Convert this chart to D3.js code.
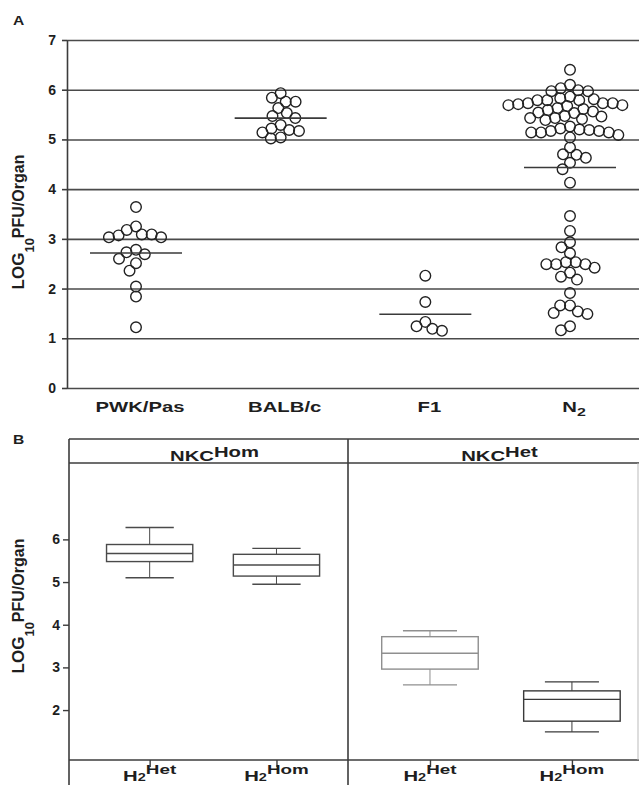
<!DOCTYPE html>
<html>
<head>
<meta charset="utf-8">
<script src="https://cdn.jsdelivr.net/npm/d3@7"></script>
<style>
  body { margin: 0; background: #fff; }
  text { font-family: "Liberation Sans", Arial, Helvetica, sans-serif; font-weight: bold; fill: #1e1e1e; }
</style>
</head>
<body>
<svg id="chart" width="639" height="785"></svg>
<script>
// ---- panel A data (log10 PFU per organ, one value per mouse) ----
const groupsA = ["PWK/Pas", "BALB/c", "F1", "N2"];
const pwkPas = [3.64, 3.18, 3.25, 3.07, 3.03, 3.03, 3.09, 3.09, 2.78, 2.73, 2.69, 2.60, 2.51, 2.36, 2.04, 1.84, 1.22];
const balbC = [5.93, 5.76, 5.84, 5.76, 5.63, 5.47, 5.53, 5.43, 5.29, 5.14, 5.19, 5.17, 5.22, 5.02, 5.04];
const f1 = [2.26, 1.73, 1.33, 1.24, 1.19, 1.15];
const n2 = [6.40, 6.10, 5.97, 5.99, 6.03, 5.97,
  5.79, 5.83, 5.81, 5.86, 5.79, 5.79, 5.73, 5.73, 5.71,
  5.69, 5.67, 5.73, 5.69, 5.63,
  5.56, 5.53, 5.61, 5.59, 5.54,
  5.43, 5.46, 5.41, 5.43, 5.39, 5.47,
  5.26,
  5.14, 5.14, 5.19, 5.20, 5.22, 5.17, 5.14, 5.17,
  5.04, 5.09,
  4.84, 4.69, 4.63, 4.70, 4.53, 4.40, 4.13,
  3.46, 3.16, 2.93, 2.83, 2.71,
  2.53, 2.49, 2.49, 2.49, 2.42, 2.53,
  2.32, 2.24, 2.18, 1.91,
  1.66, 1.54, 1.49, 1.66, 1.51,
  1.16, 1.24];
const yTicksA = [0, 1, 2, 3, 4, 5, 6, 7];

// ---- panel B data (box plots) ----
const nkcGroups = ["Hom", "Het"];
const h2Groups = ["Het", "Hom"];
// order: NKC-Hom/H2-Het, NKC-Hom/H2-Hom, NKC-Het/H2-Het, NKC-Het/H2-Hom
const whiskerLow = [5.10, 4.95, 2.59, 1.49];
const q1 = [5.48, 5.14, 2.96, 1.74];
const median = [5.67, 5.40, 3.33, 2.25];
const q3 = [5.88, 5.65, 3.72, 2.45];
const whiskerHigh = [6.28, 5.79, 3.86, 2.66];
const yTicksB = [2, 3, 4, 5, 6];

const svg = d3.select("#chart");
const lineCol = "#3c3c3c";
const stretch = 1.45; // the original lettering is wide

// ================= PANEL A =================
const yA = d3.scaleLinear().domain([0, 7]).range([388, 40]);
const xA = d3.scalePoint().domain(groupsA).range([136, 570]);
const axisX = 67;

svg.append("text").attr("transform", "translate(13,25) scale(1.3,1)")
  .attr("font-size", 12).text("A");

// horizontal grid lines
svg.append("g")
  .attr("transform", `translate(${axisX},0)`)
  .call(d3.axisLeft(yA).tickValues(yTicksA).tickSize(-(639 - axisX)).tickFormat(""))
  .call(g => g.select(".domain").remove())
  .selectAll("line").attr("stroke", "#4a4a4a").attr("stroke-width", 1.6);

// y axis
const axA = svg.append("g")
  .attr("transform", `translate(${axisX},0)`)
  .call(d3.axisLeft(yA).tickValues(yTicksA).tickFormat(d3.format("d"))
    .tickSize(5).tickPadding(6).tickSizeOuter(0));
axA.select(".domain").attr("stroke", lineCol).attr("stroke-width", 1.6);
axA.selectAll("line").attr("stroke", lineCol).attr("stroke-width", 1.6);
axA.selectAll("text").attr("font-size", 14);

// y title
function yTitle(cx, cy) {
  const t = svg.append("text")
    .attr("transform", `translate(${cx},${cy}) rotate(-90)`)
    .attr("text-anchor", "middle").attr("font-size", 17);
  t.append("tspan").text("LOG");
  t.append("tspan").attr("font-size", 13).attr("dy", 10).text("10");
  t.append("tspan").attr("font-size", 16).attr("dy", -10).text("PFU/Organ");
}
yTitle(24, 222);

// beeswarm layout from the values
function swarm(values, y, r) {
  const d = 2 * r * 0.93;
  const placed = [];
  values.map(v => ({ v, y: y(v) }))
    .sort((a, b) => a.y - b.y)
    .forEach(p => {
      const cands = [0], spans = [];
      placed.forEach(q => {
        const dy = p.y - q.y;
        if (Math.abs(dy) < d) {
          const dx = Math.sqrt(d * d - dy * dy);
          spans.push([q.dx - dx, q.dx + dx]);
          cands.push(q.dx - dx, q.dx + dx);
        }
      });
      cands.sort((a, b) => Math.abs(a) - Math.abs(b));
      p.dx = cands.find(c => spans.every(([a, b]) => c <= a + 1e-6 || c >= b - 1e-6));
      placed.push(p);
    });
  return placed;
}

const seriesA = [pwkPas, balbC, f1, n2];
const r = 5.3;
groupsA.forEach((g, i) => {
  const cx = xA(g);
  svg.append("g").selectAll("circle")
    .data(swarm(seriesA[i], yA, r))
    .join("circle")
      .attr("cx", d => cx + d.dx)
      .attr("cy", d => d.y)
      .attr("r", r)
      .attr("fill", "none")
      .attr("stroke", "#222")
      .attr("stroke-width", 1.4);
  // mean line
  const m = d3.mean(seriesA[i]);
  svg.append("line")
    .attr("x1", cx - 46).attr("x2", cx + 46)
    .attr("y1", yA(m)).attr("y2", yA(m))
    .attr("stroke", "#3a3a3a").attr("stroke-width", 1.6);
  // category label
  const t = svg.append("text")
    .attr("transform", `translate(${cx + 4},412) scale(${stretch},1)`)
    .attr("text-anchor", "middle").attr("font-size", 14);
  if (g === "N2") {
    t.append("tspan").text("N");
    t.append("tspan").attr("font-size", 11).attr("dy", 4).text("2");
  } else {
    t.text(g);
  }
});

// ================= PANEL B =================
const bTop = 439, stripBottom = 463, bBottom = 760, bLeft = 69, bMid = 348, bRight = 638;
const yB = d3.scaleLinear().domain([0.83, 7.79]).range([bBottom, stripBottom]);
const xPanels = [
  d3.scalePoint().domain(h2Groups).range([bLeft, bMid]).padding(0.6).align(0.53),
  d3.scalePoint().domain(h2Groups).range([bMid, 639]).padding(0.525).align(0.55)
];

svg.append("text").attr("transform", "translate(13,444) scale(1.3,1)")
  .attr("font-size", 12).text("B");

// frame
const frame = svg.append("g").attr("stroke", lineCol).attr("stroke-width", 1.6);
frame.append("line").attr("x1", bLeft).attr("x2", 639).attr("y1", bTop).attr("y2", bTop);
frame.append("line").attr("x1", bLeft).attr("x2", 639).attr("y1", stripBottom).attr("y2", stripBottom);
frame.append("line").attr("x1", bLeft).attr("x2", 639).attr("y1", bBottom).attr("y2", bBottom);
frame.append("line").attr("x1", bLeft).attr("x2", bLeft).attr("y1", bTop).attr("y2", 785);
frame.append("line").attr("x1", bMid).attr("x2", bMid).attr("y1", bTop).attr("y2", 785);
frame.append("line").attr("x1", bRight).attr("x2", bRight).attr("y1", stripBottom).attr("y2", bBottom)
  .attr("stroke", "#bbb").attr("stroke-width", 1);

// y axis B
const axB = svg.append("g")
  .attr("transform", `translate(${bLeft},0)`)
  .call(d3.axisLeft(yB).tickValues(yTicksB).tickFormat(d3.format("d"))
    .tickSize(6).tickPadding(3).tickSizeOuter(0));
axB.select(".domain").remove();
axB.selectAll("line").attr("stroke", lineCol).attr("stroke-width", 1.4);
axB.selectAll("text").attr("font-size", 14);

yTitle(24, 606);

const boxStroke = ["#4a4a4a", "#4a4a4a", "#8f8f8f", "#3a3a3a"];

nkcGroups.forEach((nkc, p) => {
  const x = xPanels[p];
  const lo = p === 0 ? bLeft : bMid, hi = p === 0 ? bMid : 639;

  // strip label
  const s = svg.append("text")
    .attr("transform", `translate(${(lo + hi) / 2 + 6},461) scale(${stretch},1)`)
    .attr("text-anchor", "middle").attr("font-size", 14);
  s.append("tspan").text("NKC");
  s.append("tspan").attr("dy", -4).text(nkc);

  // bottom ticks
  svg.append("g")
    .attr("transform", `translate(0,${bBottom})`)
    .call(d3.axisBottom(x).tickSize(7).tickFormat("").tickSizeOuter(0))
    .call(g => g.select(".domain").remove())
    .selectAll("line").attr("stroke", lineCol).attr("stroke-width", 1.4);

  const bw = x.step() * 0.68;
  h2Groups.forEach((h2, j) => {
    const k = p * 2 + j;
    const cx = x(h2);
    const col = boxStroke[k];
    const g = svg.append("g").attr("stroke", col).attr("fill", "none").attr("stroke-width", 1.4);
    g.append("line").attr("x1", cx).attr("x2", cx).attr("y1", yB(whiskerHigh[k])).attr("y2", yB(q3[k]))
      .attr("stroke-width", 1);
    g.append("line").attr("x1", cx).attr("x2", cx).attr("y1", yB(q1[k])).attr("y2", yB(whiskerLow[k]))
      .attr("stroke-width", 1);
    g.append("line").attr("x1", cx - bw * 0.28).attr("x2", cx + bw * 0.28)
      .attr("y1", yB(whiskerHigh[k])).attr("y2", yB(whiskerHigh[k]));
    g.append("line").attr("x1", cx - bw * 0.28).attr("x2", cx + bw * 0.28)
      .attr("y1", yB(whiskerLow[k])).attr("y2", yB(whiskerLow[k]));
    g.append("rect").attr("x", cx - bw / 2).attr("width", bw)
      .attr("y", yB(q3[k])).attr("height", yB(q1[k]) - yB(q3[k]));
    g.append("line").attr("x1", cx - bw / 2).attr("x2", cx + bw / 2)
      .attr("y1", yB(median[k])).attr("y2", yB(median[k]));

    // x label
    const t = svg.append("text")
      .attr("transform", `translate(${cx},781) scale(${stretch},1)`)
      .attr("text-anchor", "middle").attr("font-size", 14);
    t.append("tspan").text("H");
    t.append("tspan").attr("font-size", 10).text("2");
    t.append("tspan").attr("font-size", 13).attr("dy", -7).text(h2);
  });
});
</script>
</body>
</html>
